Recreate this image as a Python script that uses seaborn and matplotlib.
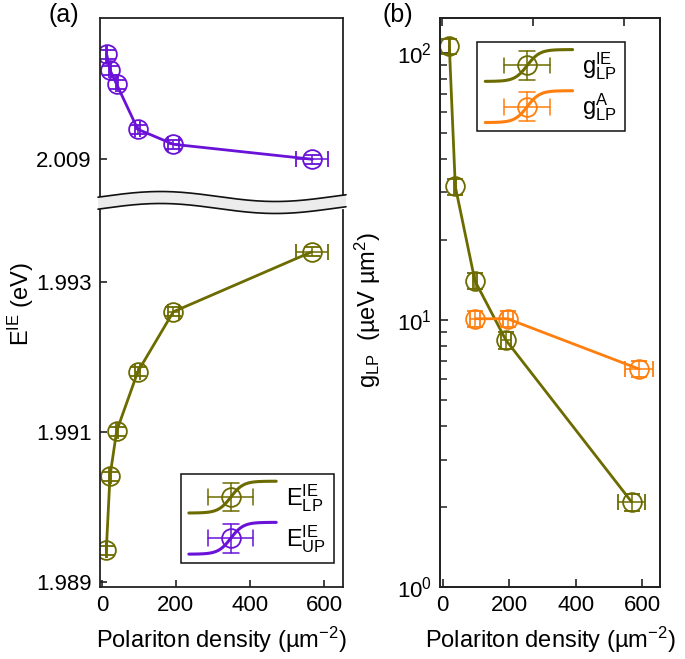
import numpy as np
import seaborn as sns
import matplotlib
matplotlib.use("Agg")
import matplotlib.pyplot as plt
from matplotlib.lines import Line2D
from matplotlib.patches import Polygon
from matplotlib.legend_handler import HandlerBase
from matplotlib.container import ErrorbarContainer

# Datos
dens_lp = [12, 22, 40, 97, 193, 567]
e_lp = [1.98942, 1.99041, 1.99101, 1.9918, 1.9926, 1.9934]
dens_up = [13, 22, 40, 97, 193, 568]
e_up = [2.01040, 2.01019, 2.01000, 2.00940, 2.00920, 2.00900]
xerr_e = [1, 2, 3, 7, 14, 43]
yerr_e = [0.00006, 0.00006, 0.00006, 0.00006, 0.00006, 0.00006]

dens_g_ie = [20, 38, 97, 190, 568]
g_ie = [106, 31.6, 14.0, 8.4, 2.08]
xerr_g_ie = [2, 3, 7, 14, 40]
yerr_g_ie = [7, 2.2, 1.0, 0.6, 0.15]

dens_g_a = [97, 195, 590]
g_a = [10.1, 10.1, 6.55]
xerr_g_a = [15, 15, 43]
yerr_g_a = [0.7, 0.7, 0.45]

OLIVE = "#6b6b00"
PURPLE = "#6a12d8"
ORANGE = "#ff7f0e"
SPINE = "#222222"
MS = 13.5

sns.set_theme(style="ticks")
plt.rcParams["font.family"] = ["Liberation Sans", "DejaVu Sans"]
plt.rcParams["mathtext.fontset"] = "custom"
plt.rcParams["mathtext.rm"] = "Liberation Sans"
plt.rcParams["mathtext.it"] = "Liberation Sans"
plt.rcParams["mathtext.bf"] = "Liberation Sans:bold"
plt.rcParams["axes.edgecolor"] = SPINE
plt.rcParams["axes.linewidth"] = 1.3
plt.rcParams["text.color"] = "black"
plt.rcParams["xtick.labelcolor"] = "black"
plt.rcParams["ytick.labelcolor"] = "black"

W, H = 685, 659
fig = plt.figure(figsize=(W / 100, H / 100), dpi=100)


def caja(x0, y0, x1, y1):
    # coordenadas en pixeles (origen arriba-izquierda) -> fraccion de figura
    return [x0 / W, 1 - y1 / H, (x1 - x0) / W, (y1 - y0) / H]


ax_up = fig.add_axes(caja(100, 18, 343, 197))
ax_lp = fig.add_axes(caja(100, 210, 343, 587))
ax_g = fig.add_axes(caja(440, 18, 660, 587))


class SigmoidHandler(HandlerBase):
    def create_artists(self, legend, orig_handle, xdescent, ydescent,
                       width, height, fontsize, trans):
        color = orig_handle.lines[0].get_color()
        t = np.linspace(0, 1, 80)
        x0, y0 = -xdescent, -ydescent
        hh = 1.2 * height
        yb = y0 + 0.5 * height - 0.5 * hh
        curva = Line2D(x0 + t * width,
                       yb + hh * (0.5 + 0.5 * np.tanh(7 * (t - 0.48))),
                       color=color, lw=2.2)
        cx, cy = x0 + 0.48 * width, y0 + 0.5 * height
        dx, dy = 0.26 * width, 0.45 * hh
        cap = 0.25 * hh
        arts = [curva,
                Line2D([cx - dx, cx + dx], [cy, cy], color=color, lw=1.1),
                Line2D([cx, cx], [cy - dy, cy + dy], color=color, lw=1.1),
                Line2D([cx - dx, cx - dx], [cy - cap, cy + cap], color=color, lw=1.1),
                Line2D([cx + dx, cx + dx], [cy - cap, cy + cap], color=color, lw=1.1),
                Line2D([cx - cap, cx + cap], [cy - dy, cy - dy], color=color, lw=1.1),
                Line2D([cx - cap, cx + cap], [cy + dy, cy + dy], color=color, lw=1.1),
                Line2D([cx], [cy], marker="o", ms=MS, mfc="none", mec=color, mew=1.3)]
        for a in arts:
            a.set_transform(trans)
        return arts


def serie(ax, x, y, xe, ye, color, label):
    sns.lineplot(x=x, y=y, ax=ax, color=color, lw=2, sort=False, legend=False)
    return ax.errorbar(x, y, xerr=xe, yerr=ye, fmt="o", ms=MS, mfc="none",
                       mec=color, mew=1.3, ecolor=color, elinewidth=1.1,
                       capsize=5.5, capthick=1.1, color=color, label=label)


def leyenda(ax, handles, loc, anchor):
    leg = ax.legend(handles=handles, handler_map={ErrorbarContainer: SigmoidHandler()},
                    loc=loc, bbox_to_anchor=anchor, bbox_transform=fig.transFigure,
                    fontsize=17, frameon=True, fancybox=False, framealpha=1,
                    edgecolor="#111111", handlelength=3.7, handleheight=1.35,
                    labelspacing=0.4, handletextpad=0.4, borderpad=0.35,
                    borderaxespad=0)
    leg.get_frame().set_linewidth(1.1)
    return leg


# Panel (a)
h_up = serie(ax_up, dens_up, e_up, xerr_e, yerr_e, PURPLE, r"E$^{\mathrm{IE}}_{\mathrm{UP}}$")
h_lp = serie(ax_lp, dens_lp, e_lp, xerr_e, yerr_e, OLIVE, r"E$^{\mathrm{IE}}_{\mathrm{LP}}$")

for ax in (ax_up, ax_lp):
    ax.set_xlim(-5, 651)
    ax.tick_params(direction="in", length=5, width=1.2, labelsize=16, pad=6, color=SPINE)
    ax.set_xlabel("")
    ax.set_ylabel("")

ax_up.set_ylim(2.008497, 2.010884)
ax_up.set_yticks([2.009])
ax_up.set_yticklabels(["2.009"])
ax_up.set_xticks([])
ax_up.spines["bottom"].set_visible(False)

ax_lp.set_ylim(1.98893, 1.993957)
ax_lp.set_yticks([1.989, 1.991, 1.993])
ax_lp.set_yticklabels(["1.989", "1.991", "1.993"])
ax_lp.set_xticks([0, 200, 400, 600])
ax_lp.spines["top"].set_visible(False)

leyenda(ax_lp, [h_lp, h_up], "lower right", (334 / W, 1 - 563 / H))

# Corte ondulado del eje
xs = np.linspace(98, 346, 200)
y_top = 196.5 - 5 * np.sin(2 * np.pi * (xs - 103) / 230)
y_bot = y_top + 12
pts = np.column_stack([np.concatenate([xs, xs[::-1]]) / W,
                       1 - np.concatenate([y_top, y_bot[::-1]]) / H])
fig.patches.append(Polygon(pts, closed=True, transform=fig.transFigure,
                           facecolor="#ececec", edgecolor="none", zorder=5))
fig.lines.append(Line2D(xs / W, 1 - y_top / H, transform=fig.transFigure,
                        color="#111111", lw=1.2, zorder=6))
fig.lines.append(Line2D(xs / W, 1 - y_bot / H, transform=fig.transFigure,
                        color="#111111", lw=1.2, zorder=6))

# Panel (b)
h_gie = serie(ax_g, dens_g_ie, g_ie, xerr_g_ie, yerr_g_ie, OLIVE, r"g$^{\mathrm{IE}}_{\mathrm{LP}}$")
h_ga = serie(ax_g, dens_g_a, g_a, xerr_g_a, yerr_g_a, ORANGE, r"g$^{\mathrm{A}}_{\mathrm{LP}}$")
ax_g.set_yscale("log")
ax_g.set_ylim(1, 135)
ax_g.set_xlim(-8, 653)
ax_g.set_xticks([0, 200, 400, 600])
ax_g.tick_params(which="major", direction="in", length=6, width=1.2, labelsize=16, pad=6, color=SPINE)
ax_g.tick_params(which="minor", direction="in", length=5, width=1.1, color=SPINE)
ax_g.tick_params(axis="x", which="minor", bottom=False)
ax_g.set_xlabel("")
ax_g.set_ylabel("")

ax_top = ax_g.twiny()
ax_top.set_xlim(-3.7, 480)
ax_top.set_xticks([0, 200, 400])
ax_top.set_xticklabels([])
ax_top.tick_params(direction="in", length=6, width=1.2, color=SPINE)

leyenda(ax_g, [h_gie, h_ga], "upper left", (477 / W, 1 - 42 / H))

# Textos
fig.text(21 / W, 1 - 304 / H, r"E$^{\mathrm{IE}}$ (eV)", rotation=90,
         ha="center", va="center", fontsize=17)
fig.text(368 / W, 1 - 310 / H, r"g$_{\mathrm{LP}}$  (µeV µm$^{2}$)", rotation=90,
         ha="center", va="center", fontsize=17)
fig.text(221 / W, 1 - 640 / H, r"Polariton density (µm$^{-2}$)",
         ha="center", va="center", fontsize=17)
fig.text(550 / W, 1 - 640 / H, r"Polariton density (µm$^{-2}$)",
         ha="center", va="center", fontsize=17)
fig.text(64 / W, 1 - 15 / H, "(a)", ha="center", va="center", fontsize=18)
fig.text(398 / W, 1 - 15 / H, "(b)", ha="center", va="center", fontsize=18)

fig.savefig("out.png", dpi=100)
